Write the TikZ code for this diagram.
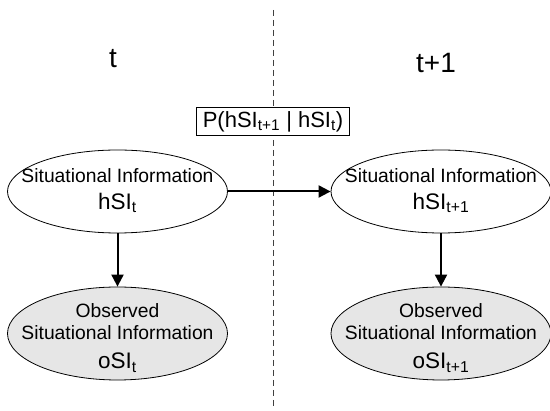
\documentclass[tikz,border=0pt]{standalone}
\usepackage{fontspec}
\setmainfont{Liberation Sans}
\usetikzlibrary{shapes.geometric,arrows.meta}
\definecolor{obsgray}{HTML}{E6E6E6}
\definecolor{dashgray}{HTML}{404040}
\begin{document}
\begin{tikzpicture}[x=1pt,y=-1pt,
  shell/.style={ellipse, draw, line width=0.8pt, minimum width=220pt, minimum height=83pt, inner sep=0pt},
  obsshell/.style={shell, fill=obsgray, minimum height=93pt},
  txt/.style={inner sep=0pt, anchor=base, font=\fontsize{19.3}{22}\selectfont},
  bigtxt/.style={inner sep=0pt, anchor=base, font=\fontsize{22.5}{24}\selectfont},
  conn/.style={-{Triangle[length=12pt,width=12pt]}, line width=2pt},
  divider/.style={dash pattern=on 6pt off 4pt, draw=dashgray, line width=1pt},
  timelbl/.style={inner sep=0pt, anchor=base, font=\fontsize{28}{30}\selectfont},
  probbox/.style={draw, line width=0.8pt, fill=white, inner xsep=6pt, minimum height=28pt, font=\fontsize{22}{24}\selectfont}
]
\useasboundingbox (0,0) rectangle (550,411);
% divider
\coordinate (dtop) at (273,10);
\coordinate (dbot) at (273,409);
\draw[divider] (dtop) -- (dbot);
% time labels
\node[timelbl] (tl) at (113,68) {t};
\node[timelbl] (tr) at (436,73) {t+1};
% ellipses
\node[shell] (hl) at (117.5,191.5) {};
\node[shell] (hr) at (441,191.5) {};
\node[obsshell] (ol) at (117.5,333.5) {};
\node[obsshell] (or) at (441,333.5) {};
% texts, left column
\node[txt] (hl1) at (117.5,182.3) {Situational Information};
\node[bigtxt] (hl2) at (117.5,209.3) {hSI\textsubscript{t}};
\node[txt] (ol1) at (117.5,318) {Observed};
\node[txt] (ol2) at (117.5,340) {Situational Information};
\node[bigtxt] (ol3) at (117.5,369) {oSI\textsubscript{t}};
% texts, right column
\node[txt] (hr1) at (441,182.3) {Situational Information};
\node[bigtxt] (hr2) at (441,209.3) {hSI\textsubscript{t+1}};
\node[txt] (or1) at (441,318) {Observed};
\node[txt] (or2) at (441,340) {Situational Information};
\node[bigtxt] (or3) at (441,369) {oSI\textsubscript{t+1}};
% probability box
\node[probbox] (pb) at (273,121.5) {P(hSI\textsubscript{t+1} | hSI\textsubscript{t})};
% connectors
\draw[conn] (hl.east) -- (hr.west);
\draw[conn] (hl.south) -- (ol.north);
\draw[conn] (hr.south) -- (or.north);
\end{tikzpicture}
\end{document}
